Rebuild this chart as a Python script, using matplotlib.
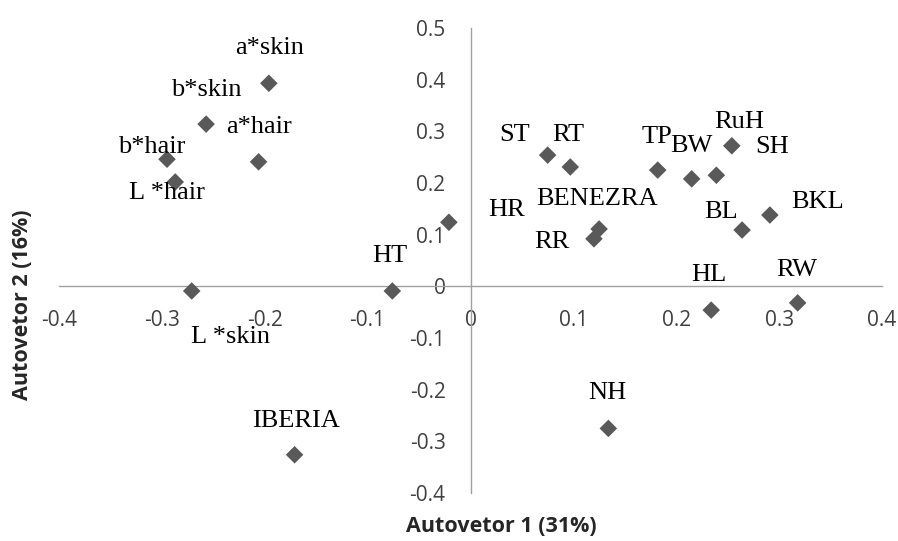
import matplotlib
matplotlib.use("Agg")
import matplotlib.pyplot as plt

# ---- data ----
names = ["a*skin", "b*skin", "a*hair", "b*hair", "L *hair", "L *skin", "HT", "HR",
         "IBERIA", "ST", "RT", "RR", "BENEZRA", "TP", "BW", "SH", "RuH", "BL",
         "BKL", "HL", "RW", "NH"]
pc1 = [-0.196, -0.257, -0.206, -0.295, -0.287, -0.271, -0.076, -0.021,
       -0.171, 0.075, 0.097, 0.120, 0.125, 0.182, 0.215, 0.239, 0.254, 0.264,
       0.291, 0.234, 0.318, 0.134]
pc2 = [0.393, 0.314, 0.241, 0.246, 0.202, -0.009, -0.009, 0.124,
       -0.326, 0.254, 0.231, 0.092, 0.111, 0.225, 0.208, 0.215, 0.272, 0.109,
       0.138, -0.046, -0.032, -0.275]
xticks = [-0.4, -0.3, -0.2, -0.1, 0, 0.1, 0.2, 0.3, 0.4]
yticks = [-0.4, -0.3, -0.2, -0.1, 0, 0.1, 0.2, 0.3, 0.4, 0.5]
xlabel = "Autovetor 1 (31%)"
ylabel = "Autovetor 2 (16%)"

# label offsets in pixels (dx right, dy down) relative to the point
label_offsets = {
    "a*skin": (1, -29), "b*skin": (0, -28), "a*hair": (0, -29), "b*hair": (-15, -6),
    "L *hair": (-8, 17), "L *skin": (39, 52), "HT": (-2, -29), "HR": (58, -6),
    "IBERIA": (1, -28), "ST": (-33, -14), "RT": (-2, -26), "RR": (-42, 9),
    "BENEZRA": (-2, -24), "TP": (-1, -27), "BW": (0, -27), "SH": (56, -22),
    "RuH": (7, -18), "BL": (-21, -12), "BKL": (48, -7), "HL": (-2, -29),
    "RW": (-1, -27), "NH": (-1, -29),
}

W, H = 898, 541
fig = plt.figure(figsize=(W / 100, H / 100), dpi=100)
x0, x1, y0, y1 = 59, 882, 28, 493
ax = fig.add_axes([x0 / W, 1 - y1 / H, (x1 - x0) / W, (y1 - y0) / H])
ax.set_xlim(-0.4, 0.4)
ax.set_ylim(-0.4, 0.5)

axis_color = "#a0a0a0"
for s in ("top", "right"):
    ax.spines[s].set_visible(False)
ax.spines["left"].set_position(("data", 0))
ax.spines["bottom"].set_position(("data", 0))
for s in ("left", "bottom"):
    ax.spines[s].set_color(axis_color)
    ax.spines[s].set_linewidth(1.0)

ax.set_xticks(xticks)
ax.set_yticks(yticks)
ax.set_xticklabels([("%g" % v) for v in xticks])
ax.set_yticklabels([("%g" % v) for v in yticks])
ax.tick_params(axis="both", length=0, labelsize=15, labelcolor="#404040")
ax.tick_params(axis="x", pad=17)
ax.tick_params(axis="y", pad=18)
for lab in ax.get_xticklabels() + ax.get_yticklabels():
    lab.set_fontfamily("Open Sans")

ax.scatter(pc1, pc2, marker="D", s=80, color="#595959", edgecolors="none", zorder=3)

for n, x, y in zip(names, pc1, pc2):
    dx, dy = label_offsets[n]
    ax.annotate(n, (x, y), xytext=(dx, -dy), textcoords="offset pixels",
                ha="center", va="baseline", fontsize=19,
                fontfamily="Liberation Serif", color="#000000", zorder=4)

fig.text(501 / W, 1 - 527 / H, xlabel, ha="center", va="center",
         fontsize=15.5, fontweight="bold", fontfamily="Open Sans", color="#262626")
fig.text(23 / W, 1 - 305 / H, ylabel, ha="center", va="center", rotation=90,
         fontsize=15.5, fontweight="bold", fontfamily="Open Sans", color="#262626")

fig.savefig("out.png", dpi=100)
